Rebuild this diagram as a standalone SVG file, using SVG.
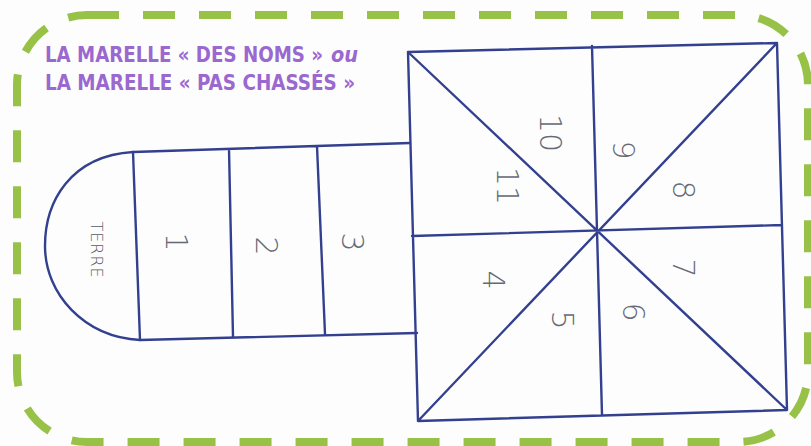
<svg xmlns="http://www.w3.org/2000/svg" width="811" height="446" viewBox="0 0 811 446">
<style>
.frame{fill:none;stroke:#97c247;stroke-width:8;stroke-dasharray:32 24}
.title{font-family:"DejaVu Sans Condensed","Liberation Sans",sans-serif;font-stretch:condensed;font-weight:bold;font-size:21px;fill:#9a68cf}
.ln{fill:none;stroke:#33408f;stroke-width:2.4;stroke-linecap:round;stroke-linejoin:round}
.hw{font-family:"DejaVu Sans","Liberation Sans",sans-serif;font-weight:200;font-size:30px;fill:#656a76;text-anchor:middle;dominant-baseline:central}
.sm{font-size:16px;letter-spacing:1px;fill:#555a66}
</style>
<rect width="811" height="446" fill="#fdfdfd"/>
<rect id="frame" class="frame" x="17" y="15" width="791" height="427" rx="70" ry="70"/>
<g id="title">
<text class="title" x="45" y="62" textLength="278" lengthAdjust="spacingAndGlyphs">LA MARELLE « DES NOMS »</text>
<text class="title" x="331" y="62" font-style="italic" textLength="27" lengthAdjust="spacingAndGlyphs">ou</text>
<text class="title" x="45" y="90" textLength="310" lengthAdjust="spacingAndGlyphs">LA MARELLE « PAS CHASSÉS »</text>
</g>
<g id="hopscotch">
<g id="terre"><path class="ln" d="M133,152 C70,156 45,202 45,246 C45,294 84,337 140,340"/><text class="hw sm" transform="translate(96,250) rotate(90)">TERRE</text></g>
<g id="rect-cells">
<path class="ln" d="M133,152 L410,143 M140,340 L417,333 M133,152 L140,340 M229,149 L233,337 M317,146 L325,334"/>
<text class="hw" transform="translate(176,242) rotate(90)">1</text>
<text class="hw" transform="translate(266,246) rotate(90)">2</text>
<text class="hw" transform="translate(352,242) rotate(90)">3</text>
</g>
<g id="square">
<path class="ln" d="M408,52 L777,43 L787,410 L418,421 Z M592,46 L602,415 M412,236 L782,225 M408,52 L787,410 M777,43 L418,421"/>
<text class="hw" transform="translate(550,133) rotate(90)">10</text>
<text class="hw" transform="translate(623,150) rotate(90)">9</text>
<text class="hw" transform="translate(507,186) rotate(90)">11</text>
<text class="hw" transform="translate(683,190) rotate(90)">8</text>
<text class="hw" transform="translate(493,280) rotate(90)">4</text>
<text class="hw" transform="translate(562,320) rotate(90)">5</text>
<text class="hw" transform="translate(633,312) rotate(90)">6</text>
<text class="hw" transform="translate(683,268) rotate(90)">7</text>
</g>
</g>
</svg>
